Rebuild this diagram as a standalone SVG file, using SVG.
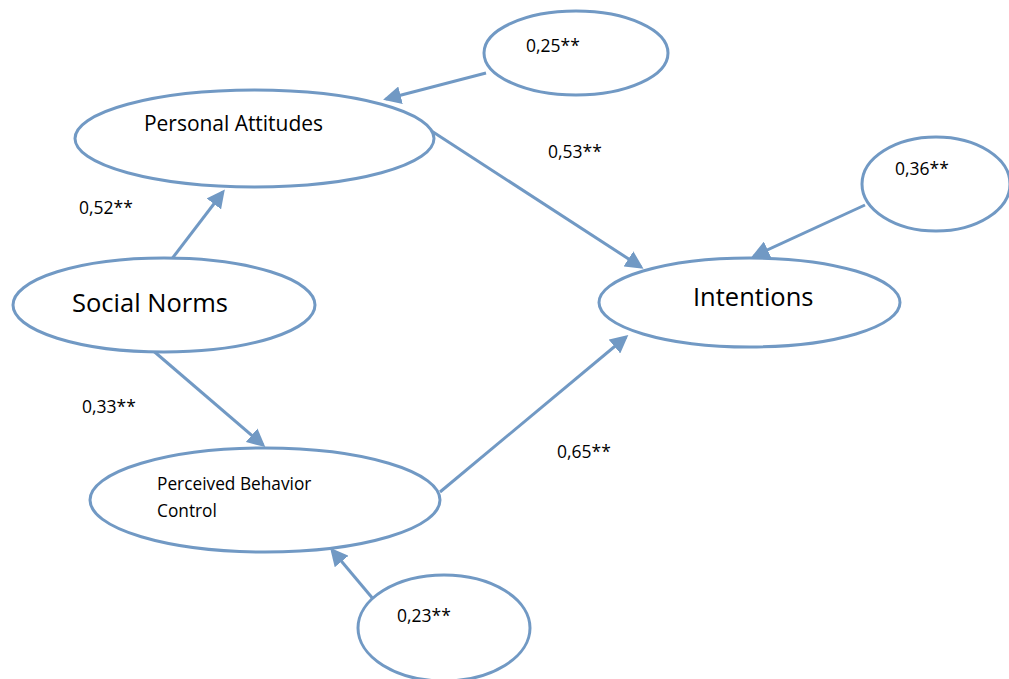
<svg xmlns="http://www.w3.org/2000/svg" width="1009" height="679" viewBox="0 0 1009 679">
<style>
.n{fill:#fff;stroke:#7199c4;stroke-width:3}
.c{stroke:#7199c4;stroke-width:3;fill:none;marker-end:url(#ah)}
text{font-family:"Open Sans","Liberation Sans",sans-serif;fill:#000}
.s{font-size:17.5px}
</style>
<defs>
<marker id="ah" markerWidth="6" markerHeight="6" refX="5" refY="3" orient="auto" markerUnits="strokeWidth">
<path d="M0,0 L6,3 L0,6 z" fill="#7199c4"/>
</marker>
</defs>
<rect width="1009" height="679" fill="#fff"/>
<g id="connectors">
<line class="c" x1="486" y1="73" x2="386" y2="99"/>
<line class="c" x1="430" y1="130" x2="641" y2="267"/>
<line class="c" x1="865" y1="205" x2="754" y2="256"/>
<line class="c" x1="171" y1="260" x2="223" y2="192"/>
<line class="c" x1="150" y1="348" x2="263" y2="445"/>
<line class="c" x1="440" y1="492" x2="626" y2="337"/>
<line class="c" x1="374" y1="600" x2="332" y2="550"/>
</g>
<g id="personal-attitudes">
<ellipse class="n" cx="254.5" cy="138.5" rx="179.5" ry="48.5"/>
<text x="144" y="131" font-size="21" textLength="179">Personal Attitudes</text>
</g>
<g id="e1">
<ellipse class="n" cx="576" cy="53" rx="92" ry="42"/>
<text class="s" x="526" y="52">0,25**</text>
</g>
<g id="social-norms">
<ellipse class="n" cx="164" cy="305" rx="151" ry="47"/>
<text x="72" y="312" font-size="25.5">Social Norms</text>
</g>
<g id="intentions">
<ellipse class="n" cx="749.5" cy="302.5" rx="150.5" ry="44.5"/>
<text x="693" y="306" font-size="25.5">Intentions</text>
</g>
<g id="e2">
<ellipse class="n" cx="936" cy="184" rx="74" ry="47"/>
<text class="s" x="895" y="175">0,36**</text>
</g>
<g id="pbc">
<ellipse class="n" cx="265" cy="500" rx="175" ry="52"/>
<text x="157" y="490" font-size="17.3">Perceived Behavior</text>
<text x="157" y="517" font-size="17.3">Control</text>
</g>
<g id="e3">
<ellipse class="n" cx="444" cy="628" rx="86" ry="53"/>
<text class="s" x="397" y="622">0,23**</text>
</g>
<g id="labels">
<text class="s" x="548" y="158">0,53**</text>
<text class="s" x="79" y="214">0,52**</text>
<text class="s" x="82" y="413">0,33**</text>
<text class="s" x="557" y="458">0,65**</text>
</g>
</svg>
